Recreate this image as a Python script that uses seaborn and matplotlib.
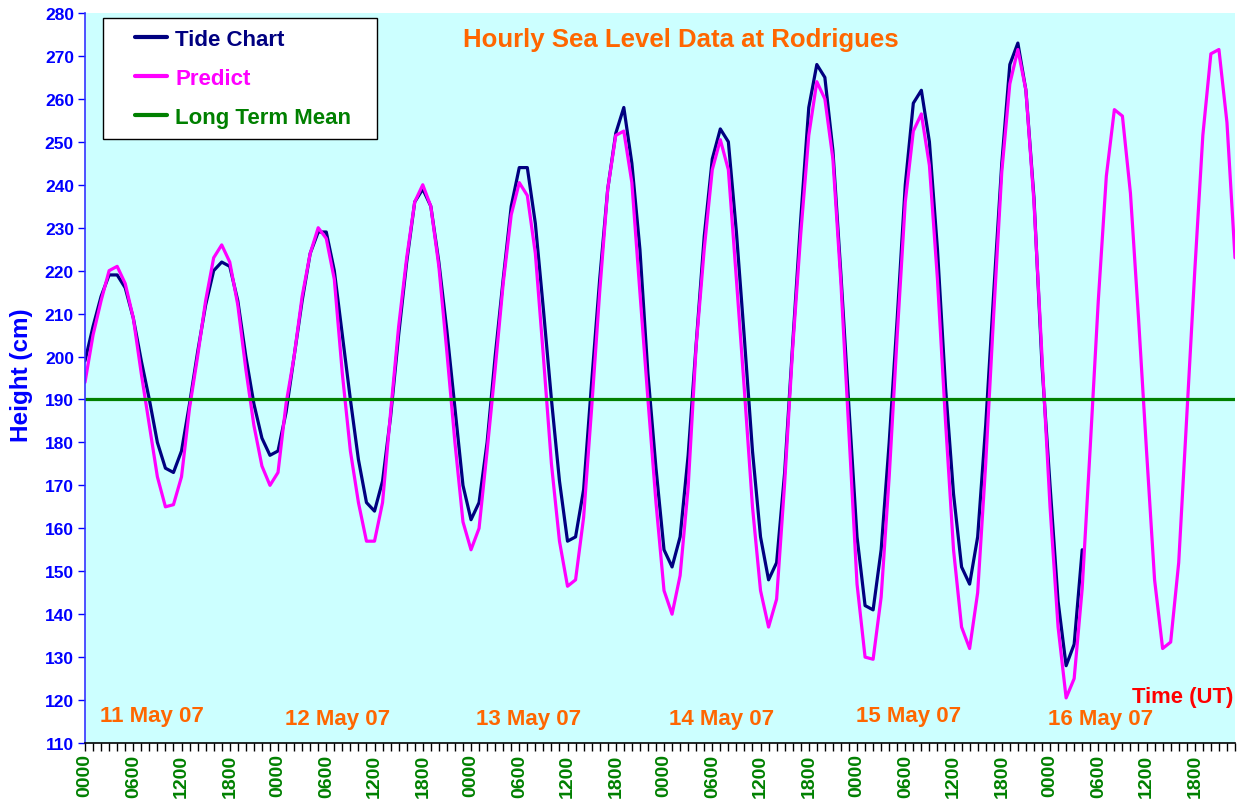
import numpy as np
import pandas as pd
import matplotlib
matplotlib.use("Agg")
import matplotlib.pyplot as plt
from matplotlib.lines import Line2D
from matplotlib.legend_handler import HandlerLine2D
from matplotlib.ticker import MultipleLocator, FixedLocator
import seaborn as sns

# ---------------- data (hourly, starting 11 May 07 0000 UT) ----------------
tide_chart = [199, 207, 214, 219, 219, 216, 209, 199, 190, 180, 174, 173, 178, 189, 201, 212,
              220, 222, 221, 213, 200, 189, 181, 177, 178, 187, 200, 213, 224, 229, 229, 220,
              205, 190, 176, 166, 164, 171, 186, 205, 222, 236, 239, 235, 222, 206, 188, 170,
              162, 166, 180, 200, 218, 235, 244, 244, 231, 211, 190, 171, 157, 158, 169, 194,
              218, 239, 252, 258, 245, 225, 196, 174, 155, 151, 158, 177, 203, 228, 246, 253,
              250, 229, 204, 178, 158, 148, 152, 173, 203, 232, 258, 268, 265, 248, 219, 188,
              158, 142, 141, 155, 180, 209, 240, 259, 262, 250, 225, 193, 168, 151, 147, 158,
              184, 215, 245, 268, 273, 262, 237, 198, 170, 143, 128, 133, 155]

predict = [194, 205, 213, 220, 221, 217, 209, 196, 184, 172, 165, 165.5, 172, 188, 200, 213,
           223, 226, 222, 212, 197, 184, 174.5, 170, 173, 189, 200, 214, 224, 230, 227.5, 218,
           196, 178, 166, 157, 157, 166, 187, 207, 223, 236, 240, 235, 221, 201, 180, 161.5,
           155, 160, 178, 197, 217, 233, 240.5, 237.5, 224, 200, 175, 157, 146.5, 148, 162.5, 188,
           215, 239, 251.5, 252.5, 240.5, 215, 190, 166, 145.5, 140, 149, 169.5, 202.5, 225, 243.5, 250.5,
           243.5, 218, 192, 165, 145.5, 137, 143.5, 170.5, 202, 228.5, 251.5, 264, 260, 246, 217, 182,
           147, 130, 129.5, 144, 172, 205, 236, 252.5, 256.5, 244.5, 218, 185, 155, 137, 132, 145,
           175, 210, 243, 263.5, 271.5, 262, 236, 200, 165, 137, 120.5, 125, 146, 179, 213, 242,
           257.5, 256, 238, 209, 178, 148, 132, 133.5, 152, 186, 220, 251.5, 270.5, 271.5, 254.5, 223]

long_term_mean = 190

tick_labels = ["0000", "0600", "1200", "1800"]
day_labels = ["11 May 07", "12 May 07", "13 May 07", "14 May 07", "15 May 07", "16 May 07"]
series_names = ["Tide Chart", "Predict", "Long Term Mean"]

# ---------------- styling ----------------
sns.set_theme(style="white")
plt.rcParams['font.family'] = ['Liberation Sans', 'DejaVu Sans']
plt.rcParams['font.weight'] = 'bold'

navy = "#000080"
magenta = "#FF00FF"
green = "#008000"
orange = "#FF6600"
blue = "#0000FF"
colors = [navy, magenta, green]

n_hours = len(predict)
frames = [
    pd.DataFrame({"hour": np.arange(len(tide_chart)), "height": tide_chart, "series": series_names[0]}),
    pd.DataFrame({"hour": np.arange(n_hours), "height": predict, "series": series_names[1]}),
    pd.DataFrame({"hour": np.arange(n_hours), "height": [long_term_mean] * n_hours, "series": series_names[2]}),
]
df = pd.concat(frames, ignore_index=True)

W, H = 1248, 803
fig = plt.figure(figsize=(W / 100, H / 100), dpi=100)
L, R, T, B = 85, 1235, 14, 744
ax = fig.add_axes([L / W, 1 - B / H, (R - L) / W, (B - T) / H])
ax.set_facecolor("#CCFFFF")

sns.lineplot(data=df, x="hour", y="height", hue="series", hue_order=series_names,
             palette=dict(zip(series_names, colors)), linewidth=2.3, ax=ax,
             legend=False, estimator=None, sort=False)

ax.set_xlim(0, n_hours - 1)
ax.set_ylim(110, 280)

# spines
for s in ["top", "right"]:
    ax.spines[s].set_visible(False)
ax.spines["left"].set_color("#3333FF")
ax.spines["left"].set_linewidth(1.2)
ax.spines["bottom"].set_color("black")
ax.spines["bottom"].set_linewidth(1.2)

# y axis
ax.yaxis.set_major_locator(MultipleLocator(10))
ax.tick_params(axis="y", which="major", direction="out", length=5, width=1, color=blue,
               labelcolor=blue, labelsize=12.5, left=True, pad=3)
for t in ax.get_yticklabels():
    t.set_fontweight("bold")
ax.set_ylabel("Height (cm)", color=blue, fontsize=17.5, fontweight="bold")
ax.yaxis.set_label_coords(-0.0455, 0.505)

# x axis
major_pos = list(range(0, n_hours, 6))
ax.xaxis.set_major_locator(FixedLocator(major_pos))
ax.xaxis.set_minor_locator(MultipleLocator(1))
ax.set_xticklabels([tick_labels[(p // 6) % 4] for p in major_pos], rotation=90,
                   color=green, fontsize=14, fontweight="bold")
ax.tick_params(axis="x", which="both", direction="out", length=6, width=1, color="black",
               bottom=True, pad=1.5)
ax.set_xlabel("")

# title and annotations
ax.text(0.518, 0.964, "Hourly Sea Level Data at Rodrigues", transform=ax.transAxes,
        ha="center", va="center", color=orange, fontsize=18.5, fontweight="bold")
day_pos = [(8.3, 116.3), (31.4, 115.6), (55.2, 115.6), (79.1, 115.6), (102.4, 116.5), (126.3, 115.6)]
for lab, (xh, yv) in zip(day_labels, day_pos):
    ax.text(xh, yv, lab, ha="center", va="center", color=orange, fontsize=16, fontweight="bold")
ax.text(136.5, 120.9, "Time (UT)", ha="center", va="center", color="#FF0000",
        fontsize=15.8, fontweight="bold")

# legend
handles = [Line2D([0], [0], color=c, lw=3.0) for c in colors]
leg = ax.legend(handles, series_names, loc="upper left",
                bbox_to_anchor=(0.0157, 0.9932 - 0.16, 0.2383, 0.16), mode="expand",
                borderaxespad=0, frameon=True, fancybox=False, framealpha=1,
                edgecolor="black", facecolor="white", handlelength=2.4,
                handletextpad=0.36, labelspacing=0.8, borderpad=0.5,
                handler_map={Line2D: HandlerLine2D(xpad=0.95)},
                prop={"weight": "bold", "size": 16})
leg.get_frame().set_linewidth(1.0)
for txt, c in zip(leg.get_texts(), colors):
    txt.set_color(c)

fig.savefig("out.png", dpi=100, facecolor="white")
